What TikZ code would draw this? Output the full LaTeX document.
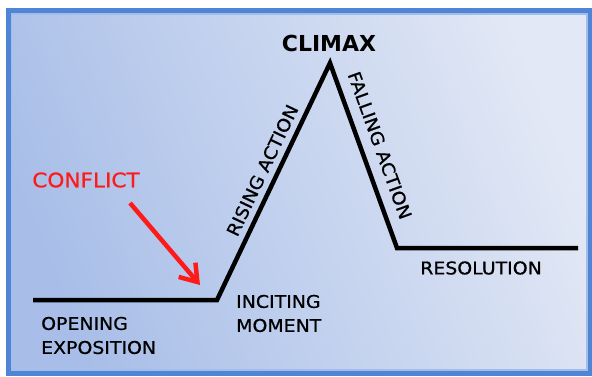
\documentclass[tikz,border=0pt]{standalone}
\usepackage{fontspec}
\setmainfont{DejaVu Sans}[FakeStretch=1.08, FakeBold=0.8]
\newfontfamily\climaxfont{DejaVu Sans}
\usepackage{tikz}
\usetikzlibrary{arrows.meta}
\definecolor{frameblue}{HTML}{5084D4}
\definecolor{framelight}{HTML}{A2BDEA}
\definecolor{bgdark}{HTML}{A8BEE8}
\definecolor{bglight}{HTML}{E2E8F5}
\definecolor{conflictred}{HTML}{FF1A1A}
\tikzset{
  frame/.style={draw=frameblue, line width=5pt},
  innerframe/.style={draw=framelight, line width=1.5pt},
  plotline/.style={draw=black, line width=4.5pt, line join=miter},
  lbl/.style={font=\fontsize{17.5}{24}\selectfont, inner sep=0pt, align=left},
  arclbl/.style={lbl, sloped},
  climaxlbl/.style={font=\climaxfont\bfseries\fontsize{22}{26}\selectfont, inner sep=0pt},
  conflictlbl/.style={font=\fontsize{20}{24}\selectfont, text=conflictred, inner sep=0pt},
  conflictarrow/.style={draw=conflictred, line width=4.5pt,
    -{Straight Barb[length=16pt, width=22pt]}},
}
\begin{document}
\begin{tikzpicture}[x=1pt,y=-1pt]
			\useasboundingbox (0,0) rectangle (592,377);
			% background and frame
			\shade[shading=axis, top color=bglight, bottom color=bgdark, shading angle=-68] (8,10) rectangle (592,375);
			\draw[innerframe] (11.5,14) rectangle (587,370);
			\draw[frame] (8,10.5) rectangle (590.5,373.5);
			% plot line
			\coordinate (start) at (33,300);
			\coordinate (incite) at (217,300);
			\coordinate (peak) at (330,63);
			\coordinate (fall) at (397,248);
			\coordinate (finish) at (578,248);
			\draw[plotline] (start) -- (incite)
				-- node[arclbl, above=6pt, pos=0.52] (rising) {RISING ACTION} (peak)
				-- node[arclbl, above=10pt, pos=0.48] (falling) {FALLING ACTION} (fall)
				-- (finish);
			\node[climaxlbl] (climax) at (329,43) {CLIMAX};
			\node[lbl, anchor=west] (opening) at (41,335.5) {OPENING\\EXPOSITION};
			\node[lbl, anchor=west] (inciting) at (236,313.5) {INCITING\\MOMENT};
			\node[lbl] (resolution) at (481,268) {RESOLUTION};
			% conflict
			\node[conflictlbl] (conflict) at (86,180) {CONFLICT};
			\coordinate (tail) at (130,203);
			\coordinate (tip) at (200,285);
			\draw[conflictarrow] (tail) -- (tip);
		\end{tikzpicture}
\end{document}
